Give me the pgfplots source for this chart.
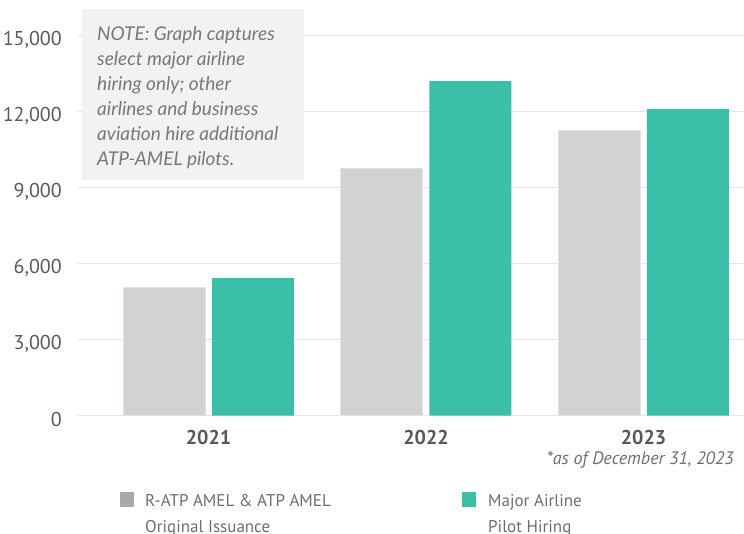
\documentclass[border=0pt]{standalone}
\usepackage{pgfplots}
\pgfplotsset{compat=1.18}
\usepackage{fontspec}
\setmainfont{PT Sans}
\newfontfamily\notefont{Lato}
\definecolor{barGray}{HTML}{D1D2D4}
\definecolor{barGrayEdge}{HTML}{E2E3E4}
\definecolor{barTeal}{HTML}{3BBFA7}
\definecolor{gridGray}{HTML}{E6E6E6}
\definecolor{legGray}{HTML}{A7A9AC}
\definecolor{txt}{HTML}{58595B}
\definecolor{legTxt}{HTML}{6D6E71}
\definecolor{noteBg}{HTML}{F2F2F2}
\definecolor{noteTxt}{HTML}{77787B}
\begin{document}
\begin{tikzpicture}[x=1pt,y=1pt]
\path[use as bounding box] (0,0) rectangle (744,533);
\begin{axis}[
  at={(78pt,117.3pt)}, anchor=south west,
  scale only axis, width=666pt, height=380pt,
  xmin=-0.6, xmax=2.462, ymin=0, ymax=15000,
  axis line style={draw=none},
  ytick={0,3000,6000,9000,12000,15000},
  ymajorgrids, grid style={gridGray, line width=1.4pt},
  xtick={0,1,2}, xticklabels={2021,2022,2023},
  major tick length=0pt,
  scaled y ticks=false,
  /pgf/number format/assume math mode=true,
  yticklabel={\pgfmathprintnumber[fixed,precision=0,1000 sep={,}]{\tick}},
  yticklabel style={font=\fontsize{20}{20}\selectfont, color=txt, inner sep=0pt, anchor=east, xshift=-16pt, yshift=-4pt},
  xticklabel style={font=\bfseries\fontsize{20}{20}\selectfont, color=txt, inner sep=0pt, anchor=north, yshift=-14pt},
  ybar, bar width=0.377,
]
\addplot[fill=barGray, draw=barGrayEdge, line width=0.8pt, bar shift=-0.204] coordinates {(0,5070) (1,9770) (2,11250)};
\addplot[fill=barTeal, draw=none, bar shift=0.204] coordinates {(0,5440) (1,13210) (2,12110)};
\end{axis}
% note box
\node[fill=noteBg, anchor=north west, minimum width=222pt, minimum height=171pt, inner sep=0pt] at (82,524) {};
\node[anchor=north west, align=left, inner sep=0pt, text=noteTxt, font=\notefont\itshape\fontsize{19}{25}\selectfont] at (97,507)
 {NOTE: Graph captures\\select major airline\\hiring only; other\\airlines and business\\aviation hire additional\\ATP-AMEL pilots.};
% footnote
\node[anchor=east, inner sep=0pt, text=legTxt, font=\itshape\fontsize{18}{18}\selectfont] at (734,73) {*as of December 31, 2023};
% legend
\fill[legGray] (120,26) rectangle (134,41);
\node[anchor=base west, inner sep=0pt, text=legTxt, font=\fontsize{17}{17}\selectfont] at (145,27) {R-ATP AMEL \& ATP AMEL};
\node[anchor=base west, inner sep=0pt, text=legTxt, font=\fontsize{17}{17}\selectfont] at (145,1) {Original Issuance};
\fill[barTeal] (462,26) rectangle (476,41);
\node[anchor=base west, inner sep=0pt, text=legTxt, font=\fontsize{17}{17}\selectfont] at (488,27) {Major Airline};
\node[anchor=base west, inner sep=0pt, text=legTxt, font=\fontsize{17}{17}\selectfont] at (488,1) {Pilot Hiring};
\end{tikzpicture}
\end{document}
